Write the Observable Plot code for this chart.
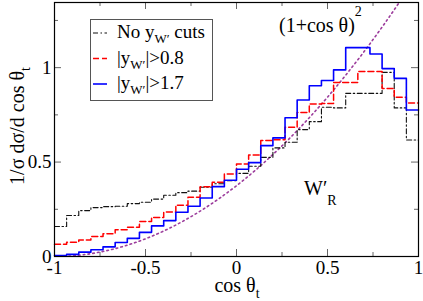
<!DOCTYPE html>
<html>
<head>
<meta charset="utf-8">
<script src="https://cdn.jsdelivr.net/npm/d3@7"></script>
<script src="https://cdn.jsdelivr.net/npm/@observablehq/plot@0.6"></script>
<style>
  html, body { margin: 0; padding: 0; background: white; }
  #chart { position: relative; width: 423px; height: 301px; }
</style>
</head>
<body>
<div id="chart"></div>
<script>
// ---- data ----
const nBins = 30;                 // cos θ_t bins from -1 to 1
const noCuts = [0.159, 0.217, 0.243, 0.259, 0.264, 0.266, 0.280, 0.287, 0.304, 0.324,
                0.338, 0.346, 0.367, 0.385, 0.402, 0.440, 0.478, 0.525, 0.575, 0.605,
                0.672, 0.714, 0.790, 0.787, 0.864, 0.864, 0.864, 0.975, 0.787, 0.617];
const cut08  = [0.065, 0.076, 0.087, 0.106, 0.121, 0.141, 0.155, 0.185, 0.207, 0.235,
                0.272, 0.314, 0.370, 0.393, 0.437, 0.490, 0.538, 0.614, 0.618, 0.684,
                0.762, 0.808, 0.810, 0.922, 0.922, 0.979, 0.979, 0.890, 0.843, 0.813];
const cut17  = [0.005, 0.011, 0.023, 0.036, 0.051, 0.074, 0.096, 0.128, 0.162, 0.190,
                0.234, 0.266, 0.310, 0.370, 0.404, 0.462, 0.497, 0.587, 0.628, 0.735,
                0.829, 0.904, 0.932, 0.988, 1.106, 1.106, 1.072, 0.995, 0.943, 0.776];
// (1+cos θ)^2 reference curve (normalised), sampled values
const curveX = [-1, -0.9, -0.8, -0.7, -0.6, -0.5, -0.4, -0.3, -0.2, -0.1, 0,
                0.1, 0.2, 0.3, 0.4, 0.5, 0.6, 0.7, 0.8, 0.9, 1.0];
const curveY = [0, 0.00375, 0.015, 0.03375, 0.06, 0.09375, 0.135, 0.18375, 0.24, 0.30375, 0.375,
                0.45375, 0.54, 0.63375, 0.735, 0.84375, 0.96, 1.08375, 1.215, 1.35375, 1.5];
const xMajor = [-1, -0.5, 0, 0.5, 1];
const xMinor = [-0.75, -0.25, 0.25, 0.75];
const yMajor = [0, 0.5, 1];
const yMinor = [0.25, 0.75, 1.25];
const xTickLabels = ["-1", "-0.5", "0", "0.5", "1"];
const yTickLabels = ["0", "0.5", "1"];
const legendLabels = [["No y", "W\u2032", " cuts"], ["|y", "W\u2032", "|>0.8"], ["|y", "W\u2032", "|>1.7"]];

// ---- build tables ----
const edges = d3.range(nBins + 1).map(i => -1 + 2 * i / nBins);
function steps(vals, series) {
  return edges.map((e, i) => ({x: e, y: vals[Math.min(i, vals.length - 1)], series}));
}
const curvePts = curveX.map((x, i) => ({x, y: curveY[i]}));

const W = 423, H = 301, ML = 54, MR = 5, MT = 2, MB = 45;
const innerW = W - ML - MR, innerH = H - MT - MB;
const tickColor = "#666";
const font = "'Liberation Serif', 'Times New Roman', serif";

const chart = Plot.plot({
  width: W, height: H,
  marginLeft: ML, marginRight: MR, marginTop: MT, marginBottom: MB,
  style: {fontFamily: font, fontSize: "19px", background: "white", color: "black", overflow: "visible"},
  x: {domain: [-1, 1]},
  y: {domain: [0, 1.345]},
  marks: [
    Plot.line(curvePts, {x: "x", y: "y", stroke: "#9c3c9c", strokeWidth: 1.6,
      strokeDasharray: "1.6,3.2", curve: "natural", clip: true}),
    Plot.line(steps(noCuts, "a"), {x: "x", y: "y", curve: "step-after", stroke: "#111",
      strokeWidth: 1.1, strokeDasharray: "5,2.5,1.5,2.5"}),
    Plot.line(steps(cut08, "b"), {x: "x", y: "y", curve: "step-after", stroke: "#ff0000",
      strokeWidth: 1.5, strokeDasharray: "6,3"}),
    Plot.line(steps(cut17, "c"), {x: "x", y: "y", curve: "step-after", stroke: "#0000ff",
      strokeWidth: 1.6}),
    // inward ticks on all four sides
    Plot.tickX(xMajor, {x: d => d, insetTop: innerH - 7, stroke: tickColor}),
    Plot.tickX(xMinor, {x: d => d, insetTop: innerH - 4, stroke: tickColor}),
    Plot.tickX(xMajor, {x: d => d, insetBottom: innerH - 7, stroke: tickColor}),
    Plot.tickX(xMinor, {x: d => d, insetBottom: innerH - 4, stroke: tickColor}),
    Plot.tickY(yMajor, {y: d => d, insetRight: innerW - 7, stroke: tickColor}),
    Plot.tickY(yMinor, {y: d => d, insetRight: innerW - 4, stroke: tickColor}),
    Plot.tickY(yMajor, {y: d => d, insetLeft: innerW - 7, stroke: tickColor}),
    Plot.tickY(yMinor, {y: d => d, insetLeft: innerW - 4, stroke: tickColor}),
    Plot.axisX(xMajor, {tickSize: 0, tickPadding: 4, label: null, fontSize: 19,
      tickFormat: (d, i) => xTickLabels[i]}),
    Plot.axisY(yMajor, {tickSize: 0, tickPadding: 3, label: null, fontSize: 19,
      tickFormat: (d, i) => yTickLabels[i]}),
    Plot.frame({stroke: "black", strokeWidth: 1.2})
  ]
});
document.getElementById("chart").appendChild(chart);

// ---- annotations (real text) ----
const svg = d3.select(chart);
const g = svg.append("g").attr("font-family", font).attr("fill", "black")
  .attr("text-anchor", "start");

// legend box
const lg = g.append("g");
lg.append("rect").attr("x", 90.5).attr("y", 19.5).attr("width", 122).attr("height", 81)
  .attr("fill", "white").attr("stroke", "#555").attr("stroke-width", 1);
const legendStyles = [
  {stroke: "#111", dash: "5,2.5,1.5,2.5", w: 1.1},
  {stroke: "#ff0000", dash: "6,3", w: 1.5},
  {stroke: "#0000ff", dash: null, w: 1.6}
];
legendLabels.forEach((lab, i) => {
  const yc = 33 + i * 25.5;
  lg.append("line").attr("x1", 93).attr("x2", 107).attr("y1", yc).attr("y2", yc)
    .attr("stroke", legendStyles[i].stroke).attr("stroke-width", legendStyles[i].w)
    .attr("stroke-dasharray", legendStyles[i].dash);
  const t = lg.append("text").attr("x", 117).attr("y", yc + 5).attr("font-size", 19)
    .attr("text-anchor", "start");
  t.append("tspan").text(lab[0]);
  t.append("tspan").attr("dy", 5).attr("font-size", 13).text(lab[1]);
  t.append("tspan").attr("dy", -5).text(lab[2]);
});

// (1+cos θ)^2 label
const c = g.append("text").attr("x", 279).attr("y", 32).attr("font-size", 20)
  .attr("text-anchor", "start");
c.append("tspan").text("(1+cos \u03b8)");
c.append("tspan").attr("dy", -16).attr("font-size", 14).text("2");

// W'_R label
const wr = g.append("text").attr("x", 304).attr("y", 195).attr("font-size", 20)
  .attr("text-anchor", "start");
wr.append("tspan").text("W\u2032");
wr.append("tspan").attr("dy", 10).attr("font-size", 14).text("R");

// x title
const xt = g.append("text").attr("x", 237).attr("y", 292).attr("font-size", 20)
  .attr("text-anchor", "middle");
xt.append("tspan").text("cos \u03b8");
xt.append("tspan").attr("dy", 6).attr("font-size", 14).text("t");

// y title
const yt = g.append("text").attr("transform", "translate(24,126) rotate(-90)")
  .attr("font-size", 20).attr("text-anchor", "middle");
yt.append("tspan").text("1/\u03c3 d\u03c3/d cos \u03b8");
yt.append("tspan").attr("dy", 6).attr("font-size", 14).text("t");
</script>
</body>
</html>
